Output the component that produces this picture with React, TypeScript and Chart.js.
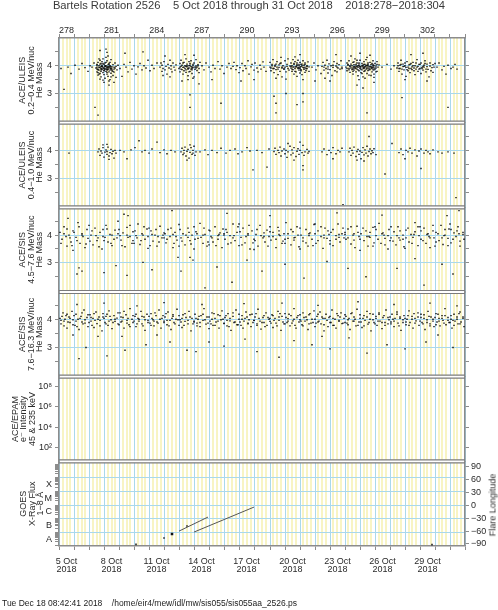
import React, { useEffect, useRef } from 'react';
import { Chart, registerables } from 'chart.js';
Chart.register(...registerables);

const FONT = '"Liberation Sans", "DejaVu Sans", Arial, sans-serif';
const TXT = '#2a2a2a';
const GRAY = '#8c8c8c';
const SEP = '#7c7c7c';
const CYAN = '#a9d8ec';
const YEL = '#f8f4c4';

const TITLE = 'Bartels Rotation 2526    5 Oct 2018 through 31 Oct 2018    2018:278\u22122018:304';
const FOOTER = 'Tue Dec 18 08:42:41 2018    /home/eir4/mew/idl/mw/sis055/sis055aa_2526.ps';
const RIGHT_TITLE = 'Flare Longitude';

const DAYS = 27;
const BOTTOM_LABELS = ['5 Oct', '8 Oct', '11 Oct', '14 Oct', '17 Oct', '20 Oct', '23 Oct', '26 Oct', '29 Oct'];
const YEAR_LABEL = '2018';
const TOP_LABELS = ['278', '281', '284', '287', '290', '293', '296', '299', '302'];

const MASS_TICKS = [2.5, 3, 3.5, 4, 4.5];
const MASS_LABELS = ['3', '4'];
const EPAM_TICKS = [2, 4, 6, 8];
const EPAM_LABELS = ['10\u00b2', '10\u2074', '10\u2076', '10\u2078'];
const GOES_CLASSES = ['A', 'B', 'C', 'M', 'X'];
const LON_TICKS = [-90, -60, -30, 0, 30, 60, 90];

const PANEL_TITLES = [
  ['ACE/ULEIS', '0.2\u22120.4 MeV/nuc', 'He Mass'],
  ['ACE/ULEIS', '0.4\u22121.0 MeV/nuc', 'He Mass'],
  ['ACE/SIS', '4.5\u22127.6 MeV/nuc', 'He Mass'],
  ['ACE/SIS', '7.6\u221216.3 MeV/nuc', 'He Mass'],
  ['ACE/EPAM', 'e\u207b Intensity', '45 & 235 keV'],
  ['GOES', 'X-Ray Flux', '1\u22128 \u00c5'],
];

// day (from 5 Oct 00:00), He mass
const P1 = [
  0.15,3.9, 0.35,3.15, 0.6,3.95, 0.8,3.72, 1.05,4.02, 1.3,3.88, 1.55,4.08, 1.75,3.93, 1.9,3.8, 2.05,4.0, 2.2,3.95, 2.3,4.1,
  2.45,3.92, 2.5,4.05, 2.52,3.78, 2.55,3.95, 2.58,4.12, 2.6,3.88, 2.62,3.66, 2.65,4.0, 2.68,3.84, 2.7,4.2, 2.72,3.93, 2.74,3.72, 2.76,4.08, 2.78,3.98, 2.8,3.85, 2.82,3.6, 2.84,4.15, 2.86,3.9, 2.88,4.02, 2.9,3.75, 2.92,3.95, 2.94,4.25, 2.96,3.82, 2.98,3.68, 3.0,4.05, 3.02,3.92, 3.04,3.55, 3.06,3.87, 3.08,4.1, 3.1,3.97, 3.12,3.8, 3.14,4.0, 3.16,3.7, 3.18,3.93, 3.2,4.18, 3.22,3.86, 3.24,3.62, 3.26,4.03, 3.28,3.9, 3.3,3.78, 3.32,4.08, 3.34,3.95, 3.36,3.5, 3.38,3.84, 3.4,4.12, 3.42,3.98, 3.44,3.73, 3.46,3.9, 3.48,4.22, 3.5,3.82, 3.53,3.96, 3.56,3.65, 3.6,4.04, 3.63,3.88, 3.66,3.77, 3.7,4.1, 3.74,3.92, 3.78,3.58, 3.82,3.98, 3.88,3.85, 2.57,3.85, 2.67,3.7, 2.87,3.98, 2.97,3.9, 3.07,4.0, 3.17,3.85, 3.27,3.95, 3.37,4.0, 3.47,3.88, 2.77,3.9, 2.63,4.25, 3.13,4.3, 3.33,3.45, 2.93,3.48,
  2.51,3.88, 2.56,4.02, 2.61,3.75, 2.66,3.94, 2.71,4.06, 2.79,3.8, 2.83,3.97, 2.89,3.86, 2.95,4.08, 3.01,3.84, 3.05,3.98, 3.11,3.9, 3.15,4.12, 3.19,3.76, 3.23,3.97, 3.29,3.86, 3.35,4.05, 3.39,3.92, 3.43,3.6, 3.49,3.96, 3.55,3.88, 3.61,3.8, 3.68,3.95, 2.99,3.4, 3.25,4.35, 2.7,3.52,
  2.42,2.5, 2.58,2.22, 3.3,3.3, 3.65,3.4, 3.22,4.48, 2.75,4.55, 3.1,4.6,
  3.92,4.02, 4.05,3.9, 4.18,3.62, 4.3,4.05, 4.45,3.95, 4.6,3.78, 4.72,4.12, 4.85,3.88, 5.0,4.0, 5.12,3.7, 5.25,3.96, 5.38,4.08, 5.5,3.85, 5.65,4.0, 5.78,3.92, 5.9,4.2, 6.05,3.82, 6.2,4.02, 6.35,3.9, 6.5,4.1, 4.4,4.45, 5.6,4.5,
  6.7,3.95, 6.76,4.1, 6.82,3.8, 6.88,4.02, 6.94,3.9, 7.0,4.15, 7.06,3.85, 7.12,3.98, 7.18,3.7, 7.24,4.05, 7.3,3.92, 7.36,4.2, 7.42,3.88, 7.48,4.0, 7.54,3.78, 7.6,4.1, 7.66,3.95, 7.72,3.84, 7.78,4.03, 7.05,4.35, 7.4,3.6, 6.9,3.65,
  8.0,3.9, 8.04,4.08, 8.07,3.78, 8.1,3.98, 8.13,4.2, 8.16,3.86, 8.2,4.02, 8.23,3.7, 8.26,3.94, 8.3,4.12, 8.33,3.82, 8.36,4.0, 8.4,3.9, 8.43,4.25, 8.46,3.76, 8.5,3.96, 8.53,4.06, 8.56,3.64, 8.6,3.88, 8.63,4.15, 8.66,3.92, 8.7,3.8, 8.73,4.02, 8.76,3.97, 8.8,4.18, 8.83,3.85, 8.86,3.72, 8.9,4.05, 8.93,3.93, 8.96,3.6, 9.0,4.1, 9.04,3.87, 9.08,3.99, 9.12,4.22, 9.16,3.83, 9.2,3.95, 9.24,4.04, 9.28,3.75, 9.32,3.9, 9.36,4.12, 8.45,3.98, 8.55,3.9, 8.65,4.0, 8.75,3.88, 8.85,3.95, 8.35,4.4, 8.95,4.38,
  8.02,3.95, 8.12,3.88, 8.22,4.1, 8.32,3.95, 8.42,3.85, 8.52,4.0, 8.62,3.78, 8.72,4.08, 8.82,3.9, 8.92,4.0, 9.02,3.95, 9.14,3.92, 9.26,4.0, 8.58,3.5, 8.88,3.55,
  8.7,2.95, 8.72,2.5, 9.3,3.35, 8.2,3.45,
  9.5,4.0, 9.65,3.85, 9.8,4.1, 9.95,3.95, 10.1,3.78, 10.25,4.02, 10.4,3.9, 10.55,4.15, 10.7,3.88, 10.85,4.0, 11.0,3.72, 11.15,3.95, 11.3,4.08, 11.45,3.9, 10.8,2.65, 10.2,3.5,
  11.55,3.98, 11.65,4.12, 11.75,3.86, 11.85,4.0, 11.95,3.75, 12.05,3.93, 12.15,4.08, 12.25,3.82, 12.35,4.0, 12.45,3.9, 12.55,4.18, 12.65,3.7, 12.75,3.96, 12.85,4.05, 12.95,3.84, 13.05,4.1, 13.15,3.92, 13.25,3.78, 13.35,4.02, 13.45,3.88, 13.55,4.14, 13.65,3.95, 13.75,3.8, 12.1,3.45, 13.0,3.5,
  14.0,3.95, 14.05,4.12, 14.1,3.82, 14.15,4.0, 14.2,3.9, 14.25,4.22, 14.3,3.75, 14.35,3.98, 14.4,4.06, 14.45,3.86, 14.5,4.15, 14.55,3.68, 14.6,3.94, 14.65,4.03, 14.7,3.8, 14.75,4.1, 14.8,3.92, 14.85,3.6, 14.9,4.0, 14.95,3.87, 15.0,4.18, 15.05,3.95, 15.1,3.78, 15.15,4.05, 15.2,3.9, 15.25,4.25, 15.3,3.84, 15.35,3.99, 14.42,3.55, 14.78,4.3, 15.12,3.52,
  14.08,3.92, 14.18,4.05, 14.28,3.9, 14.38,4.02, 14.48,3.95, 14.58,3.88, 14.68,4.08, 14.82,3.95, 14.98,3.9, 15.18,3.98,
  14.3,2.9, 14.45,2.65, 14.45,2.3, 15.8,2.6, 15.1,3.0, 16.2,3.0, 16.2,2.7,
  15.42,3.92, 15.45,4.1, 15.48,3.8, 15.51,4.0, 15.54,4.22, 15.57,3.86, 15.6,3.96, 15.63,3.7, 15.66,4.08, 15.69,3.9, 15.72,4.15, 15.75,3.78, 15.78,3.98, 15.81,4.04, 15.84,3.62, 15.87,3.93, 15.9,4.2, 15.93,3.84, 15.96,4.0, 16.0,3.74, 16.03,4.12, 16.06,3.9, 16.09,3.97, 16.12,3.82, 16.15,4.06, 16.18,3.68, 16.21,3.94, 16.24,4.18, 16.27,3.87, 16.3,4.02, 16.33,3.76, 16.36,3.95, 16.39,4.1, 16.42,3.83, 16.46,4.0, 16.5,3.9, 16.55,4.14, 16.6,3.8, 16.65,3.96, 15.7,4.32, 16.0,4.4, 16.2,3.5, 15.85,4.0, 15.95,3.92, 16.1,4.05, 15.55,3.95,
  15.44,3.98, 15.52,3.88, 15.62,4.05, 15.68,3.8, 15.76,3.95, 15.83,4.1, 15.92,3.9, 15.98,4.05, 16.04,3.95, 16.11,3.86, 16.17,4.0, 16.26,3.92, 16.35,4.05, 16.44,3.9, 16.52,3.98,
  16.8,3.95, 16.95,4.1, 17.1,3.85, 17.25,4.0, 17.4,3.72, 17.0,3.45,
  17.5,3.98, 17.56,4.12, 17.62,3.84, 17.68,4.02, 17.74,3.9, 17.8,4.2, 17.86,3.74, 17.92,3.96, 17.98,4.07, 18.04,3.86, 18.1,4.0, 18.16,3.65, 18.22,3.94, 18.28,4.15, 18.34,3.82, 18.4,3.99, 18.46,4.08, 18.52,3.78, 18.58,3.92, 18.64,4.04, 18.7,3.88, 18.76,4.18, 18.82,3.95, 18.0,3.45, 18.4,4.4, 17.7,3.55,
  17.6,3.95, 17.9,3.88, 18.2,4.02, 18.5,3.95, 18.8,3.9,
  19.1,3.95, 19.14,4.1, 19.18,3.82, 19.22,4.02, 19.26,3.9, 19.3,4.18, 19.34,3.76, 19.38,3.97, 19.42,4.06, 19.46,3.86, 19.5,4.0, 19.53,3.7, 19.56,3.92, 19.59,4.14, 19.62,3.84, 19.65,4.04, 19.68,3.95, 19.71,4.25, 19.74,3.78, 19.77,3.99, 19.8,3.88, 19.83,4.1, 19.86,3.64, 19.89,3.94, 19.92,4.06, 19.95,3.82, 19.98,4.0, 20.01,3.9, 20.04,4.2, 20.07,3.75, 20.1,3.96, 20.13,4.08, 20.16,3.85, 20.19,4.02, 20.22,3.6, 20.25,3.93, 20.28,4.15, 20.31,3.8, 20.34,3.98, 20.37,4.05, 20.4,3.88, 20.43,4.22, 20.46,3.72, 20.49,3.95, 20.52,4.1, 20.55,3.83, 20.58,4.0, 20.61,3.91, 20.64,3.66, 20.67,4.12, 20.7,3.86, 20.73,3.97, 20.76,4.04, 20.79,3.78, 20.82,3.94, 20.85,4.18, 20.88,3.85, 20.91,4.0, 20.94,3.92, 20.97,3.7, 21.0,4.08, 21.04,3.88, 21.08,3.99, 21.12,4.15, 21.16,3.8, 21.2,3.95, 21.25,4.03,
  19.6,3.98, 19.7,3.9, 19.9,4.0, 20.0,3.95, 20.2,3.98, 20.3,3.9, 20.5,4.02, 20.6,3.96, 20.8,3.9, 20.9,4.05, 19.55,3.8, 19.85,4.2, 20.15,3.72, 20.45,4.3, 20.75,3.65, 21.05,3.78, 19.4,4.35, 20.05,4.45, 20.65,4.38, 20.35,3.55, 19.95,3.5, 20.95,3.58,
  19.12,3.9, 19.2,4.05, 19.28,3.85, 19.36,4.0, 19.44,3.92, 19.52,4.12, 19.58,3.88, 19.64,3.95, 19.72,4.05, 19.78,3.92, 19.84,3.98, 19.9,3.85, 19.96,4.1, 20.02,3.98, 20.08,3.88, 20.14,4.0, 20.2,3.92, 20.26,4.05, 20.32,3.95, 20.38,3.82, 20.44,4.0, 20.5,3.9, 20.56,4.05, 20.62,3.85, 20.68,3.98, 20.74,3.92, 20.8,4.08, 20.86,3.95, 20.92,3.85, 20.98,4.0, 21.1,3.92, 21.18,4.05,
  20.5,2.3, 19.8,3.3, 20.2,3.2, 20.95,3.4,
  21.5,3.95, 21.8,4.05, 22.1,3.88, 22.3,4.0,
  22.5,3.92, 22.55,4.1, 22.6,3.8, 22.65,4.02, 22.7,3.9, 22.75,4.2, 22.8,3.7, 22.85,3.97, 22.9,4.06, 22.95,3.85, 23.0,4.0, 23.05,3.62, 23.1,3.94, 23.15,4.15, 23.2,3.82, 23.25,4.03, 23.3,3.9, 23.35,3.75, 23.4,4.08, 23.45,3.96, 23.5,3.86, 23.55,4.12, 23.6,3.92, 23.65,3.68, 23.7,4.0, 23.75,3.88, 23.8,4.22, 23.85,3.8, 23.9,3.98, 23.95,4.05, 24.0,3.9, 24.05,3.72, 24.1,4.1, 24.15,3.94, 24.2,3.84, 24.25,4.02, 24.3,3.95, 24.35,4.18, 24.4,3.78, 24.45,3.97, 24.5,4.06, 24.55,3.87, 24.6,3.6, 24.65,3.99, 24.7,4.1, 24.75,3.82, 24.8,3.93, 24.85,4.04, 24.9,3.76, 24.95,3.95, 25.0,4.08, 23.4,4.4, 24.2,4.45, 23.0,3.5, 24.5,3.45,
  22.52,4.0, 22.62,3.9, 22.72,4.05, 22.82,3.88, 22.92,3.98, 23.02,4.1, 23.12,3.86, 23.22,3.95, 23.32,4.05, 23.42,3.9, 23.52,4.0, 23.62,3.82, 23.72,4.1, 23.82,3.95, 23.92,3.88, 24.02,4.05, 24.12,3.9, 24.22,3.98, 24.32,4.08, 24.42,3.88,
  22.8,2.85, 25.9,2.5,
  25.15,3.95, 25.3,4.1, 25.45,3.85, 25.6,3.98, 25.75,3.7, 25.9,4.02, 26.05,3.9, 26.2,3.95, 26.35,4.05, 26.5,3.88,
];

const P2 = [
  0.67,3.9,
  2.62,3.95, 2.68,4.05, 2.74,3.82, 2.8,3.98, 2.86,3.9, 2.92,4.1, 2.98,3.76, 3.04,3.94, 3.1,4.02, 3.16,3.86, 3.22,3.96, 3.28,4.12, 3.34,3.8, 3.4,3.92, 3.46,4.04, 3.52,3.88, 3.58,3.97, 3.64,3.72, 3.7,4.0, 3.76,3.9, 2.9,4.2, 3.3,3.68, 3.2,4.22,
  4.05,4.0, 4.3,3.95, 4.5,3.7, 4.8,4.02, 5.05,4.1, 5.3,4.35, 5.5,3.95, 5.75,4.0, 6.0,3.9, 6.2,4.05, 6.5,4.3, 6.7,3.92, 7.0,4.02, 7.2,3.88, 7.45,4.0, 7.7,3.95,
  8.1,3.95, 8.16,4.08, 8.22,3.85, 8.28,4.0, 8.34,3.9, 8.4,4.12, 8.46,3.8, 8.52,3.97, 8.58,4.04, 8.64,3.72, 8.7,3.93, 8.76,4.1, 8.82,3.86, 8.88,4.0, 8.94,3.9, 9.0,4.15, 9.06,3.82, 9.12,3.95, 8.5,3.65, 8.7,4.2,
  9.4,3.95, 9.7,4.02, 9.9,3.85, 10.2,4.0, 10.5,3.92, 10.8,4.08, 11.1,3.9, 11.4,4.0, 11.7,4.05, 11.9,3.88, 12.2,3.95, 12.5,4.1, 12.7,3.98, 12.9,3.3, 13.2,4.0, 13.5,3.92, 13.8,3.4, 13.95,4.05,
  14.3,3.96, 14.38,4.08, 14.46,3.86, 14.54,4.0, 14.62,3.92, 14.7,4.12, 14.78,3.8, 14.86,3.98, 14.94,4.05, 15.02,3.88, 15.1,4.0, 15.18,3.75, 15.26,3.95, 15.34,4.15, 15.42,3.84, 15.5,4.02, 15.58,3.9, 15.66,4.1, 15.74,3.78, 15.82,3.97, 15.9,4.06, 15.98,3.86, 16.06,4.0, 16.14,3.92, 16.22,4.18, 16.3,3.82, 16.38,3.95, 16.46,4.04, 16.54,3.9, 16.62,3.96, 15.2,4.25, 15.6,3.65, 16.0,4.3, 16.2,3.3, 16.25,3.45,
  17.5,3.95, 17.65,4.05, 17.8,3.85, 17.95,4.0, 18.1,3.92, 18.25,4.1, 18.4,3.88, 18.55,4.0, 18.7,3.95, 18.85,4.08, 18.9,2.05, 18.2,3.7,
  19.3,3.95, 19.37,4.08, 19.44,3.82, 19.51,4.0, 19.58,3.9, 19.65,4.12, 19.72,3.78, 19.79,3.96, 19.86,4.04, 19.93,3.86, 20.0,3.98, 20.07,3.7, 20.14,3.93, 20.21,4.1, 20.28,3.84, 20.35,4.02, 20.42,3.9, 20.49,4.15, 20.56,3.8, 20.63,3.96, 20.7,4.05, 20.77,3.88, 20.84,3.99, 20.91,3.92, 20.98,4.06, 21.05,3.85, 20.3,3.62, 19.8,3.65, 20.6,4.5,
  21.65,3.15, 22.15,4.25,
  22.6,3.92, 22.75,4.05, 22.9,3.85, 23.05,4.0, 23.2,3.95, 23.35,4.08, 23.5,3.9, 23.65,4.02, 23.8,3.8, 23.95,3.98, 24.1,4.05, 24.25,3.9, 24.4,4.0, 24.55,3.95, 24.7,3.88, 24.85,4.02, 25.2,3.95, 25.5,3.9, 25.9,3.95, 26.3,3.9, 24.1,3.35, 26.4,2.3, 23.0,3.7,
];

const P3 = [
  0.05,4.1, 0.2,3.85, 0.35,4.3, 0.5,3.6, 0.65,4.0, 0.8,3.75, 0.95,4.15,
  1.1,3.92, 1.25,4.45, 1.4,3.7, 1.55,4.05, 1.7,3.55, 1.85,4.2, 1.95,3.88,
  2.1,4.0, 2.25,3.65, 2.4,4.25, 2.55,3.8, 2.7,4.1, 2.85,3.5, 2.95,3.95,
  3.1,4.35, 3.25,3.75, 3.4,4.02, 3.55,3.62, 3.7,4.18, 3.85,3.9, 3.95,4.5,
  4.1,3.82, 4.25,4.08, 4.4,3.58, 4.55,4.28, 4.7,3.95, 4.85,3.7, 4.95,4.12,
  5.1,3.98, 5.25,4.4, 5.4,3.66, 5.55,4.05, 5.7,3.85, 5.85,4.22, 5.95,3.52,
  6.1,4.15, 6.25,3.78, 6.4,4.0, 6.55,3.6, 6.7,4.32, 6.85,3.9, 6.95,4.08,
  7.1,3.72, 7.25,4.2, 7.4,3.95, 7.55,3.55, 7.7,4.1, 7.85,3.82, 7.95,4.38,
  8.1,3.9, 8.25,4.05, 8.4,3.65, 8.55,4.25, 8.7,3.8, 8.85,4.0, 8.95,3.5,
  9.1,4.12, 9.25,3.88, 9.4,4.42, 9.55,3.7, 9.7,4.02, 9.85,3.6, 9.95,4.18,
  10.1,3.95, 10.25,3.75, 10.4,4.3, 10.55,3.85, 10.7,4.08, 10.85,3.55, 10.95,4.0,
  11.1,4.2, 11.25,3.68, 11.4,3.98, 11.55,4.4, 11.7,3.8, 11.85,4.1, 11.95,3.62,
  12.1,3.92, 12.25,4.25, 12.4,3.72, 12.55,4.05, 12.7,3.5, 12.85,4.15, 12.95,3.85,
  13.1,4.02, 13.25,3.6, 13.4,4.35, 13.55,3.9, 13.7,3.75, 13.85,4.18, 13.95,3.95,
  14.1,3.82, 14.25,4.1, 14.4,3.55, 14.55,4.28, 14.7,3.98, 14.85,3.7, 14.95,4.05,
  15.1,4.45, 15.25,3.88, 15.4,3.65, 15.55,4.12, 15.7,3.92, 15.85,4.3, 15.95,3.58,
  16.1,4.0, 16.25,3.78, 16.4,4.2, 16.55,3.6, 16.7,4.08, 16.85,3.85, 16.95,4.38,
  17.1,3.7, 17.25,4.15, 17.4,3.95, 17.55,3.52, 17.7,4.25, 17.85,3.88, 17.95,4.02,
  18.1,4.1, 18.25,3.62, 18.4,3.98, 18.55,4.4, 18.7,3.75, 18.85,4.05, 18.95,3.9,
  19.1,3.85, 19.25,4.22, 19.4,3.68, 19.55,4.0, 19.7,3.55, 19.85,4.32, 19.95,3.95,
  20.1,4.05, 20.25,3.8, 20.4,4.15, 20.55,3.6, 20.7,3.92, 20.85,4.28, 20.95,3.72,
  21.1,3.98, 21.25,4.42, 21.4,3.7, 21.55,4.08, 21.7,3.88, 21.85,3.5, 21.95,4.2,
  22.1,3.9, 22.25,4.12, 22.4,3.65, 22.55,4.3, 22.7,3.82, 22.85,4.0, 22.95,3.58,
  23.1,4.18, 23.25,3.75, 23.4,4.02, 23.55,3.92, 23.7,4.45, 23.85,3.62, 23.95,3.98,
  24.1,3.85, 24.25,4.25, 24.4,3.7, 24.55,4.05, 24.7,3.55, 24.85,4.15, 24.95,3.9,
  25.1,4.1, 25.25,3.8, 25.4,4.35, 25.55,3.66, 25.7,4.0, 25.85,3.88, 25.95,4.22,
  26.1,3.72, 26.25,4.08, 26.4,3.95, 26.55,4.3, 26.7,3.6, 26.85,4.02, 26.95,3.85,
  0.45,3.95, 1.5,4.0, 2.6,3.9, 3.5,4.0, 4.6,3.92, 5.6,4.0, 6.6,3.95, 7.6,4.02, 8.6,3.92, 9.6,4.0, 10.6,3.98, 11.6,3.9, 12.6,4.0, 13.6,3.95, 14.6,4.02, 15.6,3.9, 16.6,3.98, 17.6,4.0, 18.6,3.92, 19.6,4.05, 20.6,3.95, 21.6,4.0, 22.6,3.9, 23.6,4.02, 24.6,3.95, 25.6,3.98, 26.6,4.05,
  0.9,3.45, 2.0,4.35, 3.0,3.8, 4.0,4.2, 5.0,3.7, 6.0,4.25, 7.0,3.9, 8.0,3.6, 9.0,4.3, 10.0,3.65, 11.0,4.05, 12.0,4.4, 13.0,3.48, 14.0,4.12, 15.0,3.85, 16.0,3.5, 17.0,4.4, 18.0,3.8, 19.0,4.1, 20.0,3.45, 21.0,4.3, 22.0,3.8, 23.0,3.52, 24.0,4.3, 25.0,3.6, 26.0,4.4,
  0.1,3.7, 0.3,4.05, 0.55,4.22, 0.75,3.9, 0.85,3.62, 1.0,4.1, 1.2,3.8, 1.35,4.3, 1.6,3.95, 1.8,3.68,
  2.05,3.78, 2.2,4.15, 2.45,3.98, 2.65,3.58, 2.9,4.2, 3.05,3.92, 3.2,4.22, 3.45,3.7, 3.65,3.85, 3.9,4.05,
  4.05,3.98, 4.2,3.62, 4.5,4.0, 4.75,4.35, 4.9,3.8, 5.05,4.15, 5.2,3.9, 5.45,3.8, 5.65,4.3, 5.9,3.95,
  6.05,3.62, 6.2,4.02, 6.45,4.2, 6.65,3.75, 6.9,4.0, 7.05,4.05, 7.2,3.85, 7.45,4.25, 7.65,3.7, 7.8,3.95,
  8.05,4.2, 8.2,3.78, 8.45,4.0, 8.65,4.1, 8.8,3.68, 9.05,3.85, 9.2,4.05, 9.45,3.92, 9.65,4.25, 9.9,3.75,
  10.05,4.15, 10.2,3.9, 10.45,3.62, 10.65,4.02, 10.9,4.22, 11.05,3.85, 11.2,4.1, 11.45,3.72, 11.65,3.98, 11.9,4.3,
  12.05,4.12, 12.2,3.65, 12.45,3.95, 12.65,4.35, 12.9,3.72, 13.05,3.8, 13.2,4.2, 13.45,3.98, 13.65,4.08, 13.9,3.6,
  14.05,4.3, 14.2,3.95, 14.45,3.85, 14.65,4.15, 14.9,3.78, 15.05,3.7, 15.2,4.05, 15.45,4.2, 15.65,3.82, 15.9,4.0,
  16.05,4.25, 16.2,3.9, 16.45,3.72, 16.65,4.05, 16.9,3.62, 17.05,4.05, 17.2,3.8, 17.45,4.3, 17.65,3.9, 17.9,4.15,
  18.05,3.68, 18.2,4.2, 18.45,3.85, 18.65,4.02, 18.9,4.25, 19.05,4.02, 19.2,3.9, 19.45,4.3, 19.65,3.82, 19.9,4.1,
  20.05,3.85, 20.2,4.25, 20.45,3.95, 20.65,4.1, 20.9,3.6, 21.05,4.2, 21.2,3.85, 21.45,4.05, 21.65,3.65, 21.9,3.98,
  22.05,4.3, 22.2,3.78, 22.45,3.98, 22.65,4.15, 22.9,3.85, 23.05,3.9, 23.2,4.25, 23.45,3.7, 23.65,4.12, 23.9,4.3,
  24.05,4.15, 24.2,3.8, 24.45,4.02, 24.65,3.9, 24.9,4.35, 25.05,3.75, 25.2,4.05, 25.45,3.9, 25.65,4.2, 25.9,3.62,
  26.05,4.2, 26.2,3.85, 26.45,4.15, 26.65,3.78, 26.9,4.1,
  0.6,4.6, 4.3,4.75, 4.6,4.7, 7.5,4.88, 11.2,4.78, 14.0,4.7, 18.5,4.8, 21.5,4.72, 25.8,4.7, 26.6,4.88,
  1.2,2.6, 1.5,2.7, 1.35,2.82, 3.0,2.65, 3.8,2.9, 4.5,2.55, 5.6,3.02, 6.2,2.75, 7.9,3.2, 8.1,2.7, 8.7,3.2, 8.9,3.1, 9.7,2.1, 10.5,2.85, 11.5,2.3, 12.5,3.1, 13.5,2.7, 15.0,2.95, 16.3,2.45, 17.8,3.05, 19.2,2.8, 20.4,2.5, 22.5,2.8, 23.7,3.15, 24.3,2.2, 25.5,2.95, 26.2,2.6,
];

const P4 = [
  0.05,4.05, 0.15,3.85, 0.25,4.25, 0.35,3.95, 0.45,4.15, 0.55,3.7, 0.65,4.1, 0.75,3.9, 0.85,4.3, 0.95,4.0,
  1.05,3.8, 1.15,4.2, 1.25,4.02, 1.35,3.65, 1.45,4.12, 1.55,3.92, 1.65,4.35, 1.75,3.88, 1.85,4.08, 1.95,3.75,
  2.05,4.18, 2.15,3.95, 2.25,4.05, 2.35,3.72, 2.45,4.28, 2.55,3.86, 2.65,4.1, 2.75,3.98, 2.85,3.6, 2.95,4.22,
  3.05,3.9, 3.15,4.12, 3.25,3.8, 3.35,4.32, 3.45,4.0, 3.55,3.68, 3.65,4.15, 3.75,3.94, 3.85,4.06, 3.95,3.85,
  4.05,4.25, 4.15,3.92, 4.25,4.08, 4.35,3.7, 4.45,4.18, 4.55,3.98, 4.65,3.82, 4.75,4.4, 4.85,4.02, 4.95,3.9,
  5.05,4.12, 5.15,3.75, 5.25,4.05, 5.35,3.95, 5.45,4.3, 5.55,3.85, 5.65,4.1, 5.75,3.62, 5.85,4.2, 5.95,3.98,
  6.05,3.88, 6.15,4.22, 6.25,4.0, 6.35,3.78, 6.45,4.15, 6.55,3.92, 6.65,4.35, 6.75,3.7, 6.85,4.05, 6.95,3.95,
  7.05,4.1, 7.15,3.82, 7.25,4.28, 7.35,3.98, 7.45,3.65, 7.55,4.12, 7.65,3.9, 7.75,4.02, 7.85,4.38, 7.95,3.8,
  8.05,4.0, 8.15,3.72, 8.25,4.18, 8.35,3.94, 8.45,4.08, 8.55,3.85, 8.65,4.3, 8.75,3.6, 8.85,4.05, 8.95,3.92,
  9.05,4.2, 9.15,3.88, 9.25,4.02, 9.35,3.75, 9.45,4.15, 9.55,3.98, 9.65,4.4, 9.75,3.84, 9.85,4.1, 9.95,3.68,
  10.05,3.95, 10.15,4.25, 10.25,3.8, 10.35,4.05, 10.45,3.92, 10.55,4.18, 10.65,3.7, 10.75,4.0, 10.85,4.32, 10.95,3.86,
  11.05,4.08, 11.15,3.78, 11.25,4.22, 11.35,3.96, 11.45,3.62, 11.55,4.12, 11.65,3.9, 11.75,4.35, 11.85,3.82, 11.95,4.02,
  12.05,3.92, 12.15,4.15, 12.25,3.7, 12.35,4.05, 12.45,4.28, 12.55,3.88, 12.65,4.0, 12.75,3.75, 12.85,4.2, 12.95,3.98,
  13.05,4.1, 13.15,3.85, 13.25,4.38, 13.35,3.95, 13.45,3.66, 13.55,4.08, 13.65,3.9, 13.75,4.25, 13.85,3.8, 13.95,4.02,
  14.05,3.94, 14.15,4.18, 14.25,3.72, 14.35,4.05, 14.45,3.88, 14.55,4.3, 14.65,3.98, 14.75,3.62, 14.85,4.12, 14.95,3.85,
  15.05,4.22, 15.15,3.9, 15.25,4.04, 15.35,3.78, 15.45,4.15, 15.55,3.96, 15.65,4.4, 15.75,3.7, 15.85,4.08, 15.95,3.92,
  16.05,4.0, 16.15,3.82, 16.25,4.25, 16.35,3.95, 16.45,4.1, 16.55,3.65, 16.65,4.18, 16.75,3.88, 16.85,4.02, 16.95,4.32,
  17.05,3.75, 17.15,4.12, 17.25,3.92, 17.35,4.28, 17.45,3.85, 17.55,4.05, 17.65,3.6, 17.75,4.2, 17.85,3.98, 17.95,4.08,
  18.05,3.9, 18.15,4.35, 18.25,3.8, 18.35,4.02, 18.45,3.7, 18.55,4.15, 18.65,3.94, 18.75,4.25, 18.85,3.86, 18.95,4.05,
  19.05,4.18, 19.15,3.88, 19.25,4.0, 19.35,3.65, 19.45,4.22, 19.55,3.95, 19.65,4.1, 19.75,3.78, 19.85,4.38, 19.95,3.92,
  20.05,4.05, 20.15,3.72, 20.25,4.15, 20.35,3.98, 20.45,4.3, 20.55,3.84, 20.65,4.02, 20.75,3.6, 20.85,4.2, 20.95,3.9,
  21.05,4.12, 21.15,3.8, 21.25,4.25, 21.35,3.95, 21.45,3.68, 21.55,4.08, 21.65,3.9, 21.75,4.35, 21.85,3.85, 21.95,4.0,
  22.05,3.92, 22.15,4.2, 22.25,3.75, 22.35,4.05, 22.45,4.28, 22.55,3.88, 22.65,4.1, 22.75,3.62, 22.85,4.0, 22.95,4.15,
  23.05,3.82, 23.15,4.02, 23.25,4.32, 23.35,3.9, 23.45,4.12, 23.55,3.7, 23.65,4.05, 23.75,3.96, 23.85,4.25, 23.95,3.8,
  24.05,4.08, 24.15,3.9, 24.25,4.18, 24.35,3.65, 24.45,4.0, 24.55,4.3, 24.65,3.85, 24.75,4.1, 24.85,3.95, 24.95,3.75,
  25.05,4.22, 25.15,3.92, 25.25,4.05, 25.35,3.78, 25.45,4.15, 25.55,3.98, 25.65,4.4, 25.75,3.82, 25.85,4.08, 25.95,3.9,
  26.05,4.02, 26.15,3.7, 26.25,4.2, 26.35,3.95, 26.45,4.1, 26.55,3.85, 26.65,4.28, 26.75,3.92, 26.85,4.05, 26.95,3.75,
  0.1,3.98, 0.2,4.12, 0.3,3.78, 0.4,4.02, 0.5,4.2, 0.6,3.92, 0.7,4.05, 0.9,3.82,
  1.0,4.15, 1.1,3.95, 1.2,3.75, 1.4,4.05, 1.5,4.25, 1.6,3.85, 1.7,4.0, 1.9,4.18,
  2.0,3.9, 2.1,4.08, 2.2,3.8, 2.3,4.22, 2.4,3.98, 2.6,4.02, 2.7,3.78, 2.9,4.1,
  3.0,4.05, 3.1,3.85, 3.2,4.2, 3.3,3.95, 3.4,4.12, 3.6,3.9, 3.7,4.02, 3.9,4.25,
  4.0,3.82, 4.1,4.1, 4.2,3.95, 4.3,4.3, 4.5,3.88, 4.6,4.05, 4.7,3.75, 4.9,4.15,
  5.0,3.95, 5.1,4.2, 5.2,3.85, 5.3,4.02, 5.5,4.12, 5.6,3.78, 5.7,4.0, 5.9,3.9,
  6.0,4.12, 6.1,3.8, 6.2,4.05, 6.3,3.95, 6.4,4.25, 6.6,3.88, 6.7,4.02, 6.9,4.15,
  7.0,3.9, 7.1,4.22, 7.2,3.98, 7.3,3.78, 7.5,4.05, 7.6,4.18, 7.7,3.85, 7.9,4.0,
  8.0,4.15, 8.1,3.92, 8.2,4.05, 8.3,3.8, 8.4,4.22, 8.6,3.98, 8.7,4.1, 8.9,3.85,
  9.0,3.95, 9.1,4.05, 9.2,3.78, 9.3,4.12, 9.4,3.9, 9.6,4.2, 9.7,4.0, 9.9,3.88,
  10.0,4.1, 10.1,3.85, 10.2,4.02, 10.3,4.22, 10.4,3.8, 10.6,3.95, 10.7,4.15, 10.9,4.02,
  11.0,3.88, 11.1,4.15, 11.2,3.98, 11.3,3.75, 11.4,4.05, 11.6,4.25, 11.7,3.92, 11.9,3.82,
  12.0,4.2, 12.1,3.8, 12.2,4.02, 12.3,3.95, 12.5,4.1, 12.6,3.85, 12.7,4.18, 12.9,3.9,
  13.0,3.98, 13.1,4.22, 13.2,3.8, 13.3,4.05, 13.5,3.9, 13.6,4.15, 13.7,3.75, 13.9,4.08,
  14.0,4.05, 14.1,3.88, 14.2,4.15, 14.3,3.98, 14.5,3.78, 14.6,4.1, 14.7,4.22, 14.9,3.92,
  15.0,3.85, 15.1,4.08, 15.2,3.95, 15.3,4.2, 15.5,3.88, 15.6,4.02, 15.7,3.8, 15.9,4.15,
  16.0,4.18, 16.1,3.95, 16.2,3.78, 16.3,4.08, 16.5,4.0, 16.6,3.85, 16.7,4.22, 16.9,3.9,
  17.0,4.02, 17.1,3.88, 17.2,4.2, 17.3,3.95, 17.5,4.1, 17.6,3.82, 17.7,4.05, 17.9,3.75,
  18.0,4.12, 18.1,3.9, 18.2,4.05, 18.3,3.8, 18.5,4.22, 18.6,3.98, 18.7,4.1, 18.9,3.88,
  19.0,3.9, 19.1,4.12, 19.2,3.82, 19.3,4.05, 19.5,4.25, 19.6,3.95, 19.7,4.02, 19.9,3.8,
  20.0,4.18, 20.1,3.92, 20.2,4.05, 20.3,3.78, 20.5,4.1, 20.6,3.9, 20.7,4.22, 20.9,4.0,
  21.0,3.85, 21.1,4.05, 21.2,3.95, 21.3,4.2, 21.5,3.9, 21.6,4.15, 21.7,3.8, 21.9,4.08,
  22.0,4.1, 22.1,3.85, 22.2,4.02, 22.3,3.95, 22.5,4.2, 22.6,3.78, 22.7,4.05, 22.9,3.9,
  23.0,4.05, 23.1,3.92, 23.2,4.15, 23.3,3.8, 23.5,4.02, 23.6,4.22, 23.7,3.88, 23.9,4.1,
  24.0,3.95, 24.1,4.2, 24.2,3.85, 24.3,4.05, 24.5,3.9, 24.6,4.12, 24.7,3.78, 24.9,4.02,
  25.0,4.08, 25.1,3.82, 25.2,4.2, 25.3,3.95, 25.5,4.05, 25.6,3.88, 25.7,4.15, 25.9,3.98,
  26.0,3.9, 26.1,4.15, 26.2,3.98, 26.3,3.8, 26.5,4.02, 26.6,4.22, 26.7,3.85, 26.9,4.1,
  1.2,4.55, 3.0,4.6, 5.2,4.5, 7.0,4.62, 9.5,4.55, 12.3,4.58, 14.8,4.6, 17.2,4.52, 19.9,4.65, 22.3,4.55, 24.7,4.6, 26.5,4.5,
  0.9,3.45, 2.6,3.4, 1.3,2.6, 1.8,3.0, 3.2,2.7, 4.2,3.4, 4.4,2.9, 5.8,3.1, 7.4,3.2, 8.5,2.9, 9.1,2.85, 10.0,3.2, 11.0,3.05, 12.4,3.3, 13.2,2.85, 14.6,2.65, 15.6,3.25, 16.8,3.1, 18.0,2.95, 19.3,3.35, 20.5,2.8, 21.8,3.1, 23.0,2.95, 24.4,3.2, 25.2,3.45, 26.2,3.0, 6.5,3.45, 17.5,3.4,
];

// GOES panel: x = day, y = class level (A..X bands)
const GOES_DOTS = [7.0,0.58, 8.53,1.46, 5.13,0.12, 24.8,0.1];
const GOES_BIG = [7.53,0.88];
const GOES_LINE1 = [8.0,1.09, 9.93,2.12];
const GOES_LINE2 = [9.0,1.02, 13.0,2.85];

function pairs(a: number[]) {
  const out: { x: number; y: number }[] = [];
  for (let i = 0; i + 1 < a.length; i += 2) out.push({ x: a[i], y: a[i + 1] });
  return out;
}

const TRANSPARENT = 'rgba(0,0,0,0)';
const tickFont = { family: FONT, size: 9 };
const titleFont = { family: FONT, size: 9, lineHeight: 0.95 };

function leftAxis(weight: number, min: number, max: number, ticks: number[], label: (v: number) => string,
  title: string[], titlePad: number, gridColor: (v: number) => string, tickColor: (v: number) => string) {
  return {
    type: 'linear', position: 'left', stack: 'L', weight, min, max,
    afterBuildTicks: (s: any) => { s.ticks = ticks.map((v) => ({ value: v })); },
    afterFit: (s: any) => { s.width = 59; },
    ticks: { callback: (v: any) => label(Number(v)), color: TXT, font: tickFont, padding: 3, autoSkip: false, maxRotation: 0 },
    grid: {
      drawOnChartArea: true, lineWidth: 1, tickLength: 4,
      color: (c: any) => (c.tick ? gridColor(c.tick.value) : TRANSPARENT),
      tickColor: (c: any) => (c.tick ? tickColor(c.tick.value) : TRANSPARENT),
    },
    border: { display: true, color: GRAY, width: 1.5 },
    title: { display: true, text: title, color: TXT, font: titleFont, padding: { top: titlePad, bottom: 0 } },
  };
}

function rightAxis(weight: number, min: number, max: number, ticks: number[], label: (v: number) => string) {
  return {
    type: 'linear', position: 'right', stack: 'R', weight, min, max,
    afterBuildTicks: (s: any) => { s.ticks = ticks.map((v) => ({ value: v })); },
    afterFit: (s: any) => { s.width = 33; },
    ticks: { callback: (v: any) => label(Number(v)), color: TXT, font: tickFont, padding: 2, autoSkip: false, maxRotation: 0 },
    grid: { drawOnChartArea: false, tickLength: 4, color: GRAY },
    border: { display: true, color: GRAY, width: 1.5 },
  };
}

const MASS_MIN = 1.95, MASS_MAX = 5.0;
const massLabel = (v: number) => (v === 3 ? MASS_LABELS[0] : v === 4 ? MASS_LABELS[1] : '');
const massGrid = (v: number) => (v === 3 || v === 4 ? CYAN : TRANSPARENT);
const allGray = () => GRAY;

const goesTicks: number[] = [];
for (let i = 0; i <= 6; i++) {
  for (let k = 1; k <= 9; k++) {
    const v = i + Math.log10(k);
    if (v <= 6.2) goesTicks.push(v);
  }
}
GOES_CLASSES.forEach((_, i) => goesTicks.push(i + 0.5));
goesTicks.sort((a, b) => a - b);

const separatorPlugin = {
  id: 'panelSeparators',
  afterDatasetsDraw(chart: any) {
    const { ctx, chartArea } = chart;
    ctx.save();
    for (let i = 1; i < 6; i++) {
      const b = chart.scales['y' + i].bottom;
      ctx.fillStyle = '#ffffff';
      ctx.fillRect(chartArea.left + 1, b - 1.5, chartArea.right - chartArea.left - 2, 3);
      ctx.strokeStyle = SEP;
      ctx.lineWidth = 1.2;
      ctx.beginPath();
      ctx.moveTo(chartArea.left, b - 1.5);
      ctx.lineTo(chartArea.right, b - 1.5);
      ctx.moveTo(chartArea.left, b + 1.5);
      ctx.lineTo(chartArea.right, b + 1.5);
      ctx.stroke();
    }
    ctx.restore();
  },
};

function pointDs(data: number[], yAxisID: string, r = 0.95, color = '#000') {
  return {
    type: 'scatter', data: pairs(data), xAxisID: 'x', yAxisID, showLine: false,
    pointStyle: 'rect', pointRadius: r, pointHoverRadius: r, pointBackgroundColor: color,
    pointBorderWidth: 0, borderWidth: 0,
  };
}
function lineDs(data: number[], yAxisID: string) {
  return {
    type: 'line', data: pairs(data), xAxisID: 'x', yAxisID, showLine: true,
    borderColor: '#555', borderWidth: 1, pointRadius: 0, tension: 0, fill: false,
  };
}

export default function App() {
  const ref = useRef<HTMLCanvasElement>(null);
  useEffect(() => {
    if (!ref.current) return;
    const dayTicks: { value: number }[] = [];
    for (let d = 0; d <= DAYS; d++) dayTicks.push({ value: d });
    const quarterTicks: { value: number }[] = [];
    for (let q = 0; q <= DAYS * 4; q++) quarterTicks.push({ value: q / 4 });

    const chart = new Chart(ref.current, {
      type: 'scatter',
      data: {
        datasets: [
          pointDs(P1, 'y1'),
          pointDs(P2, 'y2'),
          pointDs(P3, 'y3'),
          pointDs(P4, 'y4'),
          lineDs(GOES_LINE1, 'y6'),
          lineDs(GOES_LINE2, 'y6'),
          pointDs(GOES_DOTS, 'y6', 1.1, '#222'),
          pointDs(GOES_BIG, 'y6', 1.8, '#111'),
        ] as any,
      },
      options: {
        responsive: false,
        animation: false,
        devicePixelRatio: 1,
        events: [],
        layout: { padding: { top: 14, bottom: 30, left: 0, right: 0 } },
        plugins: { legend: { display: false }, tooltip: { enabled: false }, title: { display: false } },
        scales: {
          x: {
            type: 'linear', position: 'bottom', min: 0, max: DAYS, alignToPixels: true,
            afterBuildTicks: (s: any) => { s.ticks = quarterTicks.map((t) => ({ value: t.value })); },
            afterFit: (s: any) => { s.height = 34; },
            ticks: {
              autoSkip: false, maxRotation: 0, minRotation: 0, labelOffset: 7.5, padding: 8, color: TXT,
              font: { family: FONT, size: 9, lineHeight: 0.85 },
              callback: (v: any) => {
                const n = Number(v);
                if (Math.abs(n - Math.round(n)) > 1e-6) return '';
                const d = Math.round(n);
                if (d % 3 !== 0 || d / 3 >= BOTTOM_LABELS.length) return '';
                return [BOTTOM_LABELS[d / 3], YEAR_LABEL];
              },
            },
            grid: {
              tickLength: 4,
              lineWidth: (c: any) => (c.tick && c.tick.value % 1 === 0 ? 1 : 2),
              color: (c: any) => (c.tick && c.tick.value % 1 === 0 ? CYAN : YEL),
              tickColor: (c: any) => (c.tick && c.tick.value % 1 === 0 ? GRAY : TRANSPARENT),
            },
            border: { color: GRAY, width: 1.5 },
          },
          xTop: {
            type: 'linear', position: 'top', min: 0, max: DAYS,
            afterBuildTicks: (s: any) => { s.ticks = dayTicks.map((t) => ({ value: t.value })); },
            afterFit: (s: any) => { s.height = 24; },
            ticks: {
              autoSkip: false, maxRotation: 0, minRotation: 0, labelOffset: 7.5, padding: -2, color: TXT, font: tickFont,
              callback: (v: any) => {
                const d = Math.round(Number(v));
                return d % 3 === 0 && d / 3 < TOP_LABELS.length ? TOP_LABELS[d / 3] : '';
              },
            },
            grid: { drawOnChartArea: false, tickLength: 4, color: GRAY },
            border: { color: GRAY, width: 1.5 },
          },
          y1: leftAxis(6, MASS_MIN, MASS_MAX, MASS_TICKS, massLabel, PANEL_TITLES[0], 18.5, massGrid, allGray),
          y2: leftAxis(5, MASS_MIN, MASS_MAX, MASS_TICKS, massLabel, PANEL_TITLES[1], 18.5, massGrid, allGray),
          y3: leftAxis(4, MASS_MIN, MASS_MAX, MASS_TICKS, massLabel, PANEL_TITLES[2], 18.5, massGrid, allGray),
          y4: leftAxis(3, MASS_MIN, MASS_MAX, MASS_TICKS, massLabel, PANEL_TITLES[3], 18.5, massGrid, allGray),
          y5: leftAxis(2, 0.58, 9.02, EPAM_TICKS,
            (v) => { const i = EPAM_TICKS.indexOf(v); return i >= 0 ? EPAM_LABELS[i] : ''; },
            PANEL_TITLES[4], 11, () => TRANSPARENT, allGray),
          y6: leftAxis(1, 0, 6.2, goesTicks,
            (v) => { const f = v - Math.floor(v); if (Math.abs(f - 0.5) < 1e-9) { return GOES_CLASSES[Math.floor(v)] || ''; } return ''; },
            PANEL_TITLES[5], 19.5,
            (v) => (Math.abs(v - Math.round(v)) < 1e-9 && v > 0.5 && v < 5.5 ? CYAN : TRANSPARENT),
            (v) => (Math.abs(v - Math.floor(v) - 0.5) < 1e-9 ? TRANSPARENT : GRAY)),
          r1: rightAxis(1, MASS_MIN, MASS_MAX, MASS_TICKS, () => ''),
          r2: rightAxis(2, MASS_MIN, MASS_MAX, MASS_TICKS, () => ''),
          r3: rightAxis(3, MASS_MIN, MASS_MAX, MASS_TICKS, () => ''),
          r4: rightAxis(4, MASS_MIN, MASS_MAX, MASS_TICKS, () => ''),
          r5: rightAxis(5, 0.58, 9.02, EPAM_TICKS, () => ''),
          r6: rightAxis(6, -94.7, 103.2, LON_TICKS, (v) => (v < 0 ? '\u2212' + Math.abs(v) : String(v))),
        } as any,
      },
      plugins: [separatorPlugin],
    } as any);
    return () => chart.destroy();
  }, []);

  const base: React.CSSProperties = { position: 'absolute', fontFamily: FONT, color: '#3a3a3a', whiteSpace: 'pre' };
  return (
    <div style={{ position: 'fixed', left: 0, top: 0, width: 498, height: 610, background: '#fff', overflow: 'hidden' }}>
      <canvas ref={ref} width={498} height={610} style={{ position: 'absolute', left: 0, top: 0, width: 498, height: 610 }} />
      <div style={{ ...base, left: 0, top: 0, width: 498, textAlign: 'center', fontSize: 11.2, lineHeight: '10px' }}>{TITLE}</div>
      <div style={{ ...base, left: 2, top: 599, fontSize: 8.5, lineHeight: '9px', color: '#222' }}>{FOOTER}</div>
      <div style={{ ...base, left: 493, top: 505, fontSize: 9, lineHeight: '9px', color: TXT, transform: 'translate(-50%, -50%) rotate(-90deg)' }}>{RIGHT_TITLE}</div>
    </div>
  );
}
